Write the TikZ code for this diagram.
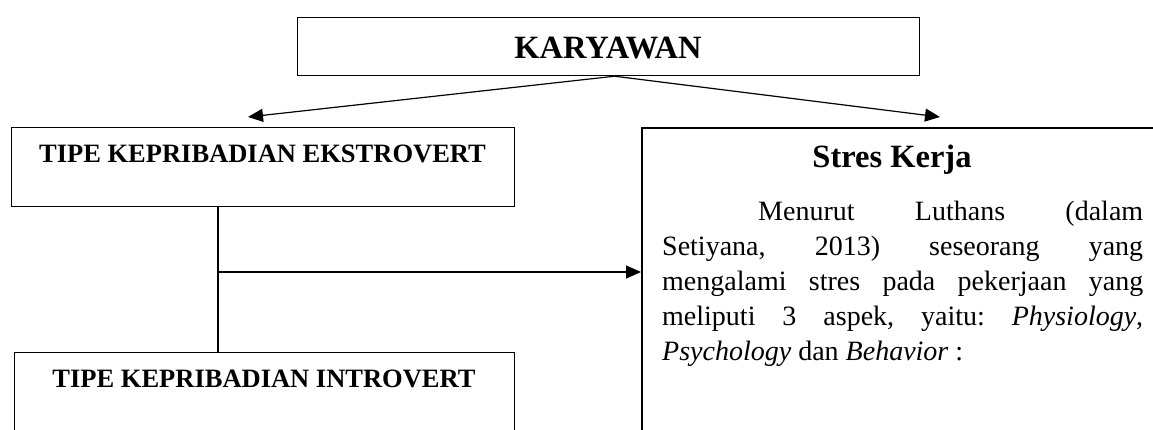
\documentclass[tikz,border=0pt]{standalone}
\usepackage{fontspec}
\setmainfont{Liberation Serif}
\usetikzlibrary{arrows.meta}
\begin{document}
\begin{tikzpicture}[x=1pt,y=-1pt,
  box/.style={draw, line width=1.2pt, inner sep=0pt, anchor=north west},
  conn/.style={line width=1.2pt},
  arr/.style={conn, -{Triangle[length=15pt,width=13pt]}},
  lbl/.style={font=\fontsize{26.5}{32}\selectfont\bfseries, anchor=base, inner sep=0pt},
  ttl/.style={font=\fontsize{32.5}{38}\selectfont\bfseries, anchor=base, inner sep=0pt}]
\useasboundingbox (0,0) rectangle (1153,429);
\node[box, minimum width=622pt, minimum height=58pt] (top) at (297,17) {};
\node[box, minimum width=503pt, minimum height=79pt] (ekstro) at (11,127) {};
\node[box, minimum width=500pt, minimum height=95pt] (intro) at (14,352) {};
\node[box, line width=1.5pt, minimum width=530pt, minimum height=320pt] (stres) at (641,127) {};
\node[ttl] (tk) at (608,58) {KARYAWAN};
\node[lbl] (te) at (262.5,162) {TIPE KEPRIBADIAN EKSTROVERT};
\node[lbl] (ti) at (264,387) {TIPE KEPRIBADIAN INTROVERT};
\node[ttl] (ts) at (892,167) {Stres Kerja};
\node[anchor=base west, inner sep=0pt] (body) at (662,220) {\parbox[t]{481pt}{\fontsize{28}{35.2}\selectfont
\hbox to 481pt{\hspace*{96pt}Menurut\hfill Luthans\hfill (dalam}
\hbox to 481pt{Setiyana,\hfill 2013)\hfill seseorang\hfill yang}
\hbox to 481pt{mengalami\hfill stres\hfill pada\hfill pekerjaan\hfill yang}
\hbox to 481pt{meliputi\hfill 3\hfill aspek,\hfill yaitu:\hfill \textit{Physiology},}
\hbox{\textit{Psychology} dan \textit{Behavior} :}}};
\coordinate (lt) at (248,117);
\coordinate (rt) at (940,117);
\coordinate (j) at (218,272);
\draw[arr] ([xshift=6pt]top.south) -- (lt);
\draw[arr] ([xshift=6pt]top.south) -- (rt);
\draw[conn] (ekstro.south -| j) -- (intro.north -| j);
\draw[arr] (j) -- (j -| stres.west);
\end{tikzpicture}
\end{document}
